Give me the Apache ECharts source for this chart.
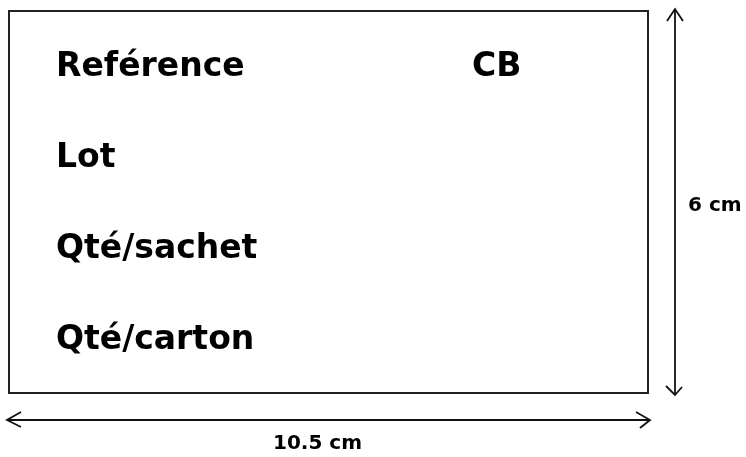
<!DOCTYPE html>
<html lang="fr">
<head>
  <meta charset="UTF-8">
  <title>Etiquette</title>
  <script src="https://cdn.jsdelivr.net/npm/echarts@6/dist/echarts.min.js"></script>
  <style>
    html, body { margin: 0; padding: 0; background: #fff; }
    #box { width: 746px; height: 457px; }
  </style>
</head>
<body>
<div id="box"></div>
<script>
  // texts of the label
  var fieldNames = ['Reférence', 'Lot', 'Qté/sachet', 'Qté/carton'];
  var refCode = 'CB';
  var widthText = '10.5 cm';
  var heightText = '6 cm';

  var chart = echarts.init(document.getElementById('box'));

  var bigFont = 'bold 33px "DejaVu Sans"';
  var smallFont = 'bold 20px "DejaVu Sans"';
  var lineStyle = { stroke: '#111', lineWidth: 1.8, fill: null };

  var els = [];

  // card outline
  els.push({
    type: 'rect',
    shape: { x: 9, y: 11, width: 639, height: 382 },
    style: { stroke: '#222', lineWidth: 2, fill: '#fff' }
  });

  // field names
  for (var i = 0; i < fieldNames.length; i++) {
    els.push({
      type: 'text',
      x: 56, y: 67 + i * 91,
      style: { text: fieldNames[i], font: bigFont, fill: '#000', verticalAlign: 'middle' }
    });
  }
  els.push({
    type: 'text',
    x: 472, y: 67,
    style: { text: refCode, font: bigFont, fill: '#000', verticalAlign: 'middle' }
  });

  // vertical dimension arrow
  els.push({ type: 'line', shape: { x1: 675, y1: 9, x2: 675, y2: 395 }, style: lineStyle });
  els.push({ type: 'polyline', shape: { points: [[667, 21], [675, 9], [683, 21]] }, style: lineStyle });
  els.push({ type: 'polyline', shape: { points: [[666, 386], [675, 395], [682, 387]] }, style: lineStyle });
  els.push({
    type: 'text', x: 688, y: 206,
    style: { text: heightText, font: smallFont, fill: '#000', verticalAlign: 'middle' }
  });

  // horizontal dimension arrow
  els.push({ type: 'line', shape: { x1: 7, y1: 420, x2: 650, y2: 420 }, style: lineStyle });
  els.push({ type: 'polyline', shape: { points: [[21, 412], [7, 420], [21, 427]] }, style: lineStyle });
  els.push({ type: 'polyline', shape: { points: [[636, 412], [650, 420], [640, 428]] }, style: lineStyle });
  els.push({
    type: 'text', x: 273, y: 444,
    style: { text: widthText, font: smallFont, fill: '#000', verticalAlign: 'middle' }
  });

  chart.setOption({
    animation: false,
    backgroundColor: '#fff',
    graphic: { elements: els }
  });
</script>
</body>
</html>
